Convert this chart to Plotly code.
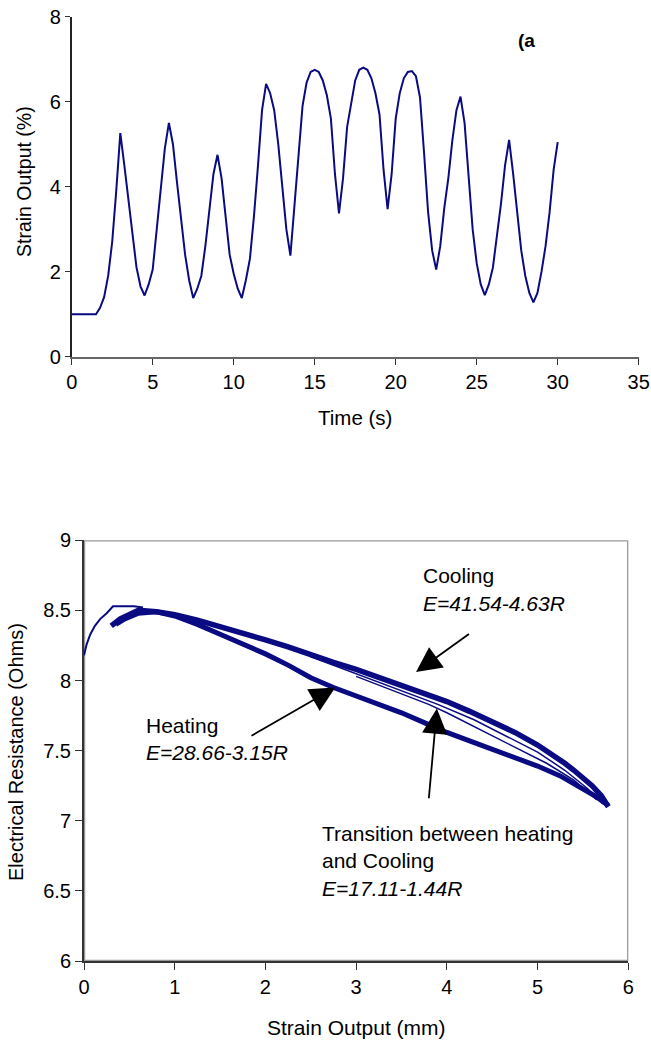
import plotly.graph_objects as go

# ---------------- Top panel (a): strain vs time ----------------
time_s = [0, 0.25, 0.5, 0.75, 1, 1.25, 1.5,
          1.75, 2, 2.25, 2.5, 2.75, 3,
          3.25, 3.5, 3.75, 4, 4.25, 4.5,
          4.75, 5, 5.25, 5.5, 5.75, 6,
          6.25, 6.5, 6.75, 7, 7.25, 7.5,
          7.75, 8, 8.25, 8.5, 8.75, 9,
          9.25, 9.5, 9.75, 10, 10.25, 10.5,
          10.75, 11, 11.25, 11.5, 11.75, 12,
          12.25, 12.5, 12.75, 13, 13.25, 13.5,
          13.75, 14, 14.25, 14.5, 14.75, 15,
          15.25, 15.5, 15.75, 16, 16.25, 16.5,
          16.75, 17, 17.25, 17.5, 17.75, 18,
          18.25, 18.5, 18.75, 19, 19.25, 19.5,
          19.75, 20, 20.25, 20.5, 20.75, 21,
          21.25, 21.5, 21.75, 22, 22.25, 22.5,
          22.75, 23, 23.25, 23.5, 23.75, 24,
          24.25, 24.5, 24.75, 25, 25.25, 25.5,
          25.75, 26, 26.25, 26.5, 26.75, 27,
          27.25, 27.5, 27.75, 28, 28.25, 28.5,
          28.75, 29, 29.25, 29.5, 29.75, 30]
strain_pct = [1.0, 1.0, 1.0, 1.0, 1.0, 1.0, 1.0,
              1.15, 1.4, 1.9, 2.7, 3.9, 5.26,
              4.5, 3.7, 2.8, 2.1, 1.65, 1.44,
              1.7, 2.05, 3.0, 4.0, 4.9, 5.5,
              5.0, 4.1, 3.2, 2.4, 1.8, 1.38,
              1.6, 1.9, 2.6, 3.4, 4.3, 4.75,
              4.2, 3.3, 2.4, 1.95, 1.6, 1.38,
              1.8, 2.3, 3.3, 4.5, 5.8, 6.42,
              6.2, 5.8, 5.0, 4.0, 3.0, 2.38,
              3.5, 4.6, 5.9, 6.45, 6.7, 6.75,
              6.7, 6.5, 6.15, 5.6, 4.3, 3.37,
              4.2, 5.4, 6.0, 6.5, 6.75, 6.8,
              6.75, 6.55, 6.2, 5.7, 4.4, 3.47,
              4.3, 5.6, 6.2, 6.55, 6.7, 6.72,
              6.6, 6.1, 4.8, 3.4, 2.5, 2.05,
              2.6, 3.5, 4.2, 5.1, 5.8, 6.12,
              5.5, 4.2, 3.0, 2.2, 1.7, 1.45,
              1.7, 2.1, 2.8, 3.6, 4.5, 5.1,
              4.3, 3.4, 2.5, 1.9, 1.5, 1.28,
              1.5, 2.0, 2.6, 3.4, 4.4, 5.05]

# ---------------- Bottom panel: resistance vs strain ----------------
init_x = [0.00, 0.03, 0.07, 0.12, 0.18, 0.25, 0.32, 0.45, 0.55, 0.65]
init_y = [8.18, 8.26, 8.33, 8.39, 8.44, 8.48, 8.53, 8.53, 8.53, 8.52]

heat_x = [0.35, 0.45, 0.6, 0.8, 1.0, 1.25, 1.5, 1.75, 2.0, 2.25, 2.5, 2.75, 3.0,
          3.25, 3.5, 3.75, 4.0, 4.25, 4.5, 4.75, 5.0, 5.25, 5.5, 5.65, 5.78]
heat_y = [8.40, 8.44, 8.48, 8.49, 8.46, 8.40, 8.33, 8.26, 8.19, 8.11, 8.02, 7.95, 7.89,
          7.83, 7.77, 7.70, 7.63, 7.57, 7.51, 7.45, 7.39, 7.32, 7.23, 7.17, 7.11]

cool_x = [5.78, 5.7, 5.6, 5.5, 5.4, 5.3, 5.15, 5.0, 4.75, 4.5, 4.25, 4.0, 3.75, 3.5,
          3.25, 3.0, 2.75, 2.5, 2.25, 2.0, 1.75, 1.5, 1.25, 1.0, 0.8, 0.6, 0.4, 0.3]
cool_y = [7.10, 7.18, 7.25, 7.31, 7.36, 7.41, 7.48, 7.54, 7.63, 7.71, 7.78, 7.85, 7.91, 7.97,
          8.03, 8.08, 8.13, 8.19, 8.24, 8.29, 8.34, 8.39, 8.43, 8.47, 8.49, 8.50, 8.44, 8.39]

trans1_x = [2.5, 3.0, 3.5, 3.9, 4.3, 4.7, 5.0, 5.3, 5.55, 5.72]
trans1_y = [8.17, 8.05, 7.93, 7.83, 7.72, 7.59, 7.49, 7.36, 7.23, 7.12]
trans2_x = [3.0, 3.4, 3.8, 4.0, 4.4, 4.8, 5.1, 5.4, 5.65]
trans2_y = [8.03, 7.93, 7.83, 7.77, 7.64, 7.51, 7.41, 7.29, 7.15]

NAVY = "#0a0a82"
FONT = "Liberation Sans, Arial, sans-serif"
W, H = 651, 1041

fig = go.Figure()
fig.add_trace(go.Scatter(x=time_s, y=strain_pct, mode="lines",
                         line=dict(color=NAVY, width=2), xaxis="x", yaxis="y",
                         showlegend=False))

for xs, ys, w in [(init_x, init_y, 2), (heat_x, heat_y, 5), (cool_x, cool_y, 5.5),
                  (trans1_x, trans1_y, 1.5), (trans2_x, trans2_y, 1.5)]:
    fig.add_trace(go.Scatter(x=xs, y=ys, mode="lines",
                             line=dict(color=NAVY, width=w), xaxis="x2", yaxis="y2",
                             showlegend=False))

def px_x(p):
    return p / W

def px_y(p):
    return (H - p) / H

tick_font_top = dict(family=FONT, size=20, color="black")
tick_font_bot = dict(family=FONT, size=20, color="black")

fig.update_layout(
    width=W, height=H,
    margin=dict(l=0, r=0, t=0, b=0),
    paper_bgcolor="white", plot_bgcolor="white",
    font=dict(family=FONT, color="black"),
    xaxis=dict(domain=[px_x(71.7), px_x(638.7)], range=[0, 35], dtick=5,
               showgrid=False, zeroline=False, showline=True, linecolor="#666666",
               linewidth=2, ticks="outside", ticklen=6, tickcolor="#333333",
               tickfont=tick_font_top, anchor="y", automargin=False),
    yaxis=dict(domain=[px_y(356.7), px_y(16.7)], range=[0, 8], dtick=2,
               showgrid=False, zeroline=False, showline=True, linecolor="#222222",
               linewidth=1.5, ticks="outside", ticklen=5, tickcolor="#333333",
               tickfont=tick_font_top, anchor="x", automargin=False),
    xaxis2=dict(domain=[px_x(84), px_x(628.3)], range=[0, 6], dtick=1,
                showgrid=False, zeroline=False, showline=True, linecolor="#333333",
                linewidth=2, ticks="outside", ticklen=7, tickcolor="#333333",
                tickfont=tick_font_bot, anchor="y2", automargin=False),
    yaxis2=dict(domain=[px_y(961), px_y(540.3)], range=[6, 9], dtick=0.5,
                showgrid=False, zeroline=False, showline=True, linecolor="#333333",
                linewidth=2, ticks="outside", ticklen=7, tickcolor="#333333",
                tickfont=tick_font_bot, anchor="x2", automargin=False),
    shapes=[dict(type="rect", xref="x2", yref="y2", x0=0, x1=6, y0=6, y1=9,
                 line=dict(color="#999999", width=2.5), layer="below")],
)

ann = []
# axis titles
ann.append(dict(text="Time (s)", xref="paper", yref="paper", x=px_x(355), y=px_y(417),
                showarrow=False, font=dict(family=FONT, size=20.5), xanchor="center", yanchor="middle"))
ann.append(dict(text="Strain Output (%)", xref="paper", yref="paper", x=px_x(24), y=px_y(182),
                showarrow=False, textangle=-90, font=dict(family=FONT, size=19.5),
                xanchor="center", yanchor="middle"))
ann.append(dict(text="Strain Output (mm)", xref="paper", yref="paper", x=px_x(356), y=px_y(1027),
                showarrow=False, font=dict(family=FONT, size=21), xanchor="center", yanchor="middle"))
ann.append(dict(text="Electrical Resistance (Ohms)", xref="paper", yref="paper", x=px_x(16),
                y=px_y(752), showarrow=False, textangle=-90, font=dict(family=FONT, size=20),
                xanchor="center", yanchor="middle"))
# panel label
ann.append(dict(text="<b>(a</b>", xref="paper", yref="paper", x=px_x(526), y=px_y(41),
                showarrow=False, font=dict(family=FONT, size=19), xanchor="center", yanchor="middle"))

# text labels in bottom panel
def label(text, X, Y):
    ann.append(dict(text=text, xref="x2", yref="y2", x=X, y=Y, showarrow=False,
                    font=dict(family=FONT, size=21), xanchor="left", yanchor="middle"))

label("Cooling", 3.72, 8.75)
label("<i>E=41.54-4.63R</i>", 3.72, 8.55)
label("Heating", 0.66, 7.68)
label("<i>E=28.66-3.15R</i>", 0.66, 7.486)
label("Transition between heating", 2.60, 6.906)
label("and Cooling", 2.60, 6.72)
label("<i>E=17.11-1.44R</i>", 2.60, 6.52)

# arrows
def arrow(x, y, ax, ay):
    ann.append(dict(text="", xref="x2", yref="y2", x=x, y=y, axref="x2", ayref="y2",
                    ax=ax, ay=ay, showarrow=True, arrowhead=2, arrowsize=2.8,
                    arrowwidth=1.8, arrowcolor="black"))

arrow(2.77, 7.95, 1.83, 7.60)   # heating
arrow(3.66, 8.06, 4.26, 8.34)   # cooling
arrow(3.89, 7.80, 3.80, 7.15)   # transition

fig.update_layout(annotations=ann)
fig.write_html("out.html", config={"displayModeBar": False},
               post_script="document.body.style.margin='0';document.body.style.overflow='hidden';")
